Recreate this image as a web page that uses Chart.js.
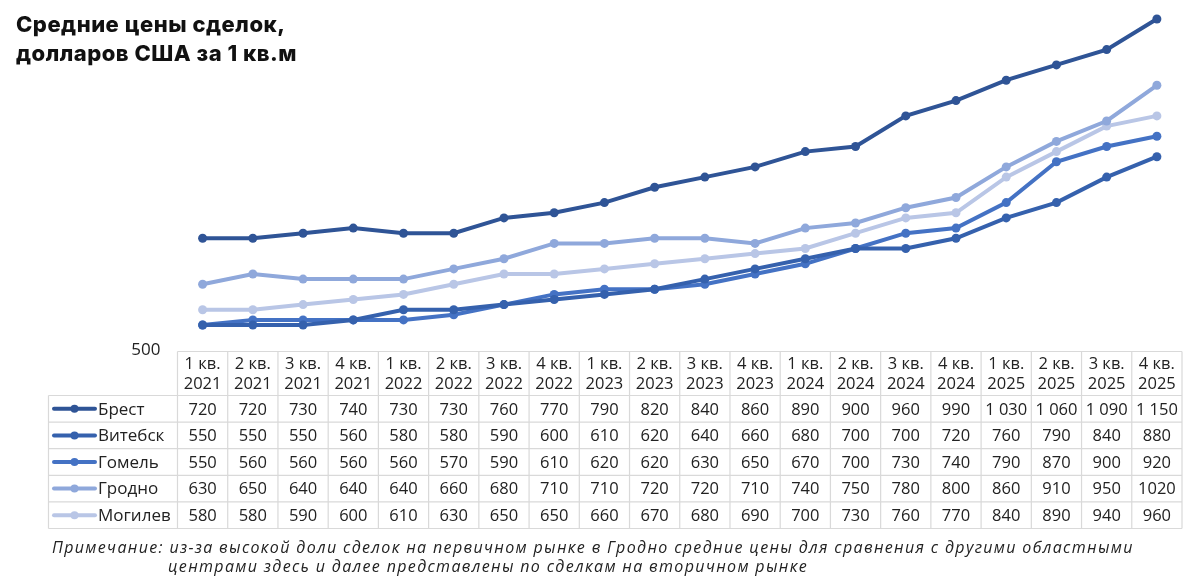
<!DOCTYPE html>
<html><head><meta charset="utf-8">
<script src="https://cdn.jsdelivr.net/npm/chart.js@4.4.1/dist/chart.umd.min.js"></script>
<style>
html,body{margin:0;padding:0;background:#fff;}
#wrap{position:relative;width:1200px;height:583px;overflow:hidden;}
#title{position:absolute;left:16px;top:10px;font-family:"Inter","Open Sans",sans-serif;font-weight:800;font-size:22px;line-height:29px;color:#111;letter-spacing:0.5px;}
#note{position:absolute;left:52px;top:538px;font-family:"Open Sans",sans-serif;font-style:italic;font-weight:400;font-size:16px;line-height:19px;color:#222;letter-spacing:1.35px;white-space:nowrap;}
#note span{display:block;}
</style></head>
<body><div id="wrap">
<canvas id="c" width="1200" height="583"></canvas>
<div id="title">Средние цены сделок,<br>долларов США за 1 кв.м</div>
<div id="note"><span>Примечание: из-за высокой доли сделок на первичном рынке в Гродно средние цены для сравнения с другими областными</span><span style="padding-left:116px">центрами здесь и далее представлены по сделкам на вторичном рынке</span></div>
</div>
<script>
const quarters = ["1 кв.","2 кв.","3 кв.","4 кв.","1 кв.","2 кв.","3 кв.","4 кв.","1 кв.","2 кв.","3 кв.","4 кв.","1 кв.","2 кв.","3 кв.","4 кв.","1 кв.","2 кв.","3 кв.","4 кв."];
const years = ["2021","2021","2021","2021","2022","2022","2022","2022","2023","2023","2023","2023","2024","2024","2024","2024","2025","2025","2025","2025"];
const seriesNames = ["Брест","Витебск","Гомель","Гродно","Могилев"];
const brest   = [720,720,730,740,730,730,760,770,790,820,840,860,890,900,960,990,1030,1060,1090,1150];
const vitebsk = [550,550,550,560,580,580,590,600,610,620,640,660,680,700,700,720,760,790,840,880];
const gomel   = [550,560,560,560,560,570,590,610,620,620,630,650,670,700,730,740,790,870,900,920];
const grodno  = [630,650,640,640,640,660,680,710,710,720,720,710,740,750,780,800,860,910,950,1020];
const mogilev = [580,580,590,600,610,630,650,650,660,670,680,690,700,730,760,770,840,890,940,960];
const colors = ["#2F5496","#3561AD","#4472C4","#8FA8DB","#B9C6E6"];
const yMin = 500, yMax = 1150;

const seriesData = [brest, vitebsk, gomel, grodno, mogilev];
const labels = quarters.map((q,i)=>q+" "+years[i]);

function fmt(v){ return v>=1000 && v!==1020 ? String(v).replace(/(\d)(\d{3})$/,"$1 $2") : String(v); }

const tablePlugin = {
  id:'tablePlugin',
  afterDraw(chart){
    const ctx = chart.ctx, xs = chart.scales.x;
    const w = xs.getPixelForValue(1)-xs.getPixelForValue(0);
    const left = xs.getPixelForValue(0)-w/2;
    const right = xs.getPixelForValue(labels.length-1)+w/2;
    const legLeft = 48.5;
    const headTop = 351.5, headBot = 395.5, rowH = 26.6;
    const bottom = headBot + rowH*seriesData.length;
    ctx.save();
    ctx.strokeStyle = "#D9D9D9"; ctx.lineWidth = 1.2;
    ctx.beginPath();
    ctx.moveTo(left,headTop); ctx.lineTo(right,headTop);
    for(let r=0;r<=seriesData.length;r++){
      const y = headBot + r*rowH;
      ctx.moveTo(legLeft,y); ctx.lineTo(right,y);
    }
    for(let c=0;c<=labels.length;c++){
      const x = left + c*w;
      ctx.moveTo(x,headTop); ctx.lineTo(x,bottom);
    }
    ctx.moveTo(legLeft,headBot); ctx.lineTo(legLeft,bottom);
    ctx.stroke();
    ctx.fillStyle = "#222";
    ctx.font = '16.5px "Open Sans", sans-serif';
    ctx.textAlign = "center"; ctx.textBaseline = "middle";
    for(let c=0;c<labels.length;c++){
      const x = xs.getPixelForValue(c);
      ctx.fillText(quarters[c], x, 364);
      ctx.fillText(years[c], x, 384);
    }
    seriesData.forEach((arr,r)=>{
      const yc = headBot + rowH*r + rowH/2 + 1;
      arr.forEach((v,c)=>{
        ctx.fillStyle="#222";
        ctx.fillText(fmt(v), xs.getPixelForValue(c), yc);
      });
      ctx.strokeStyle = colors[r]; ctx.lineWidth = 4; ctx.lineCap="round";
      ctx.beginPath(); ctx.moveTo(54,yc-1); ctx.lineTo(95,yc-1); ctx.stroke();
      ctx.fillStyle = colors[r];
      ctx.beginPath(); ctx.arc(74.5,yc-1,4,0,Math.PI*2); ctx.fill();
      ctx.fillStyle="#222"; ctx.textAlign="left";
      ctx.font = '17px "Open Sans", sans-serif';
      ctx.fillText(seriesNames[r], 98, yc);
      ctx.font = '16.5px "Open Sans", sans-serif';
      ctx.textAlign="center";
    });
    ctx.restore();
  }
};

new Chart(document.getElementById('c'), {
  type:'line',
  data:{
    labels: labels,
    datasets: seriesNames.map((n,i)=>({
      label:n, data:seriesData[i], borderColor:colors[i], backgroundColor:colors[i],
      borderWidth:4, pointRadius:4.5, pointHoverRadius:4.5, pointBorderWidth:0, tension:0, clip:false
    }))
  },
  options:{
    responsive:false, animation:false,
    layout:{padding:{top:19,right:18,bottom:232.5,left:0}},
    plugins:{legend:{display:false},tooltip:{enabled:false},title:{display:false}},
    scales:{
      x:{display:false, offset:true},
      y:{min:yMin,max:yMax,
        afterFit(s){ s.width = 177.5; s.paddingTop = 0; s.paddingBottom = 0; },
        grid:{display:false, drawTicks:false}, border:{display:false},
        ticks:{padding:17, color:"#222", font:{family:'"Open Sans", sans-serif', size:17},
          callback:(v)=> v===500 ? "500" : ""}
      }
    }
  },
  plugins:[tablePlugin]
});
</script>
</body></html>
